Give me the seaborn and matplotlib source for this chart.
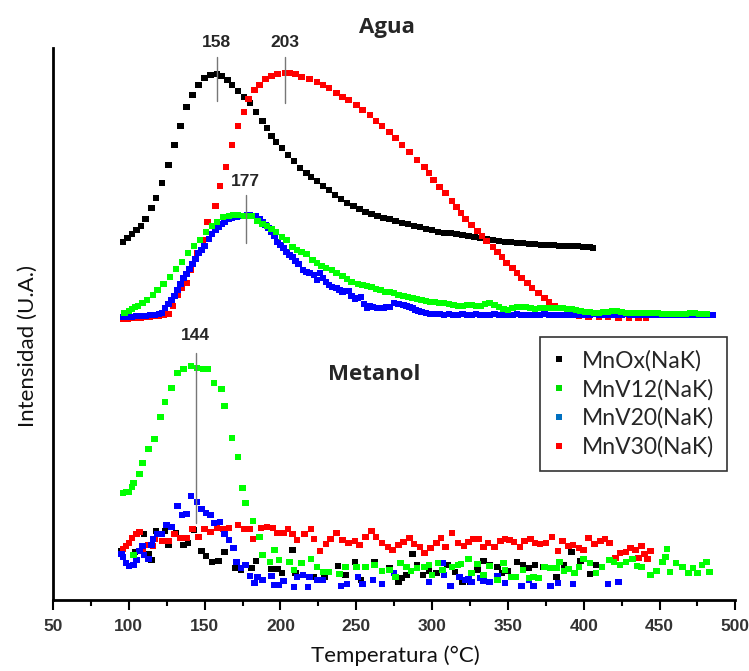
import matplotlib
matplotlib.use('Agg')
import matplotlib.pyplot as plt
import pandas as pd
import seaborn as sns
from matplotlib.lines import Line2D
from matplotlib.ticker import MultipleLocator

# Datos: temperatura (°C) e intensidad (U.A.)
# --- Agua ---
agua_mnox_t = [96, 99, 102, 105, 108, 111, 115, 118, 122, 126, 130, 134, 138, 142, 146, 150, 154, 158,
               161, 165, 168, 172, 176, 180, 184, 188, 191, 194, 197, 201, 205, 209, 213, 217, 220, 224,
               228, 232, 236, 240, 244, 248, 252, 256, 260, 264, 268, 272, 276, 280, 284, 288, 292, 296,
               300, 304, 308, 312, 316, 320, 324, 328, 332, 336, 340, 344, 348, 352, 356, 360, 364, 368,
               372, 376, 380, 384, 388, 392, 396, 400, 404, 406]
agua_mnox_i = [358, 362, 366, 370, 374, 381, 392, 402, 417, 435, 455, 474, 493, 505, 515, 522, 525, 526,
               524, 520, 515, 509, 503, 497, 488, 479, 472, 464, 458, 452, 445, 439, 432, 427, 423, 419,
               414, 410, 405, 401, 397, 394, 391, 388, 386, 384, 382, 381, 379, 377, 376, 374, 373, 371,
               370, 368, 367, 367, 366, 365, 364, 363, 362, 361, 360, 359, 358, 358, 357, 357, 356, 356,
               355, 355, 355, 354, 354, 354, 354, 353, 353, 352]

agua_mnv30_t = [96, 99, 102, 105, 108, 111, 114, 117, 120, 123, 126, 129, 132, 135, 138, 141, 145, 149,
                152, 157, 160, 164, 168, 172, 176, 179, 183, 186, 190, 194, 198, 203, 206, 210, 214, 219,
                224, 228, 232, 237, 241, 245, 250, 254, 259, 263, 267, 272, 276, 280, 285, 290, 295, 298,
                301, 305, 309, 313, 316, 319, 322, 326, 330, 333, 336, 340, 343, 346, 349, 353, 356, 359,
                363, 366, 370, 374, 377, 381, 385, 390, 397, 403, 410, 416, 423, 430, 436, 441]
agua_mnv30_i = [281, 281, 282, 282, 282, 283, 283, 284, 284, 285, 286, 294, 305, 312, 317, 330, 347, 360,
                378, 394, 414, 433, 455, 474, 488, 501, 510, 515, 521, 524, 526, 527, 527, 526, 523, 521,
                518, 515, 512, 507, 503, 500, 495, 490, 485, 479, 474, 468, 462, 455, 448, 440, 433, 427,
                420, 413, 407, 399, 393, 387, 381, 375, 369, 364, 359, 353, 348, 343, 337, 332, 327, 322,
                317, 312, 307, 302, 298, 294, 292, 288, 284, 283, 283, 283, 282, 282, 282, 282]

agua_mnv12_t = [97, 100, 102, 104, 106, 109, 112, 116, 119, 123, 127, 131, 135, 139, 143, 147, 151, 155,
                158, 162, 166, 169, 172, 176, 179, 181, 185, 188, 191, 194, 197, 201, 204, 208, 211, 214,
                217, 221, 224, 227, 230, 234, 237, 241, 244, 247, 251, 254, 257, 260, 263, 266, 269, 272,
                275, 278, 281, 284, 287, 290, 293, 296, 299, 302, 305, 308, 311, 314, 317, 320, 323, 326,
                329, 332, 335, 338, 341, 344, 347, 350, 353, 356, 359, 362, 365, 368, 371, 374, 377, 380,
                383, 386, 389, 392, 395, 398, 401, 404, 407, 410, 413, 416, 419, 422, 425, 428, 431, 434,
                437, 440, 443, 446, 449, 452, 455, 458, 461, 464, 467, 470, 473, 476, 479, 481]
agua_mnv12_i = [287, 289, 291, 293, 294, 297, 300, 305, 310, 316, 323, 331, 338, 347, 354, 360, 368, 374,
                378, 383, 384, 385, 385, 384, 384, 384, 379, 376, 374, 371, 368, 363, 360, 353, 350, 348,
                346, 340, 337, 334, 332, 330, 327, 324, 321, 318, 316, 315, 314, 313, 311, 310, 308, 308,
                307, 305, 304, 303, 302, 301, 300, 299, 298, 298, 297, 297, 296, 295, 294, 294, 295, 295,
                294, 294, 296, 297, 295, 293, 291, 290, 292, 293, 293, 293, 292, 291, 292, 292, 292, 292,
                292, 292, 291, 291, 290, 289, 288, 288, 287, 287, 288, 288, 289, 289, 288, 287, 287, 287,
                287, 287, 287, 287, 287, 286, 286, 286, 286, 286, 286, 287, 287, 286, 286, 286]

agua_mnv20_t = [96, 99, 102, 105, 108, 111, 114, 117, 120, 122, 124, 126, 128, 130, 132, 134, 136, 138,
                140, 142, 144, 146, 148, 150, 153, 155, 157, 159, 161, 163, 166, 168, 171, 173, 175, 178,
                180, 182, 184, 186, 188, 190, 192, 194, 196, 198, 200, 202, 204, 206, 208, 210, 212, 215,
                217, 219, 222, 224, 226, 228, 230, 232, 234, 237, 239, 241, 243, 245, 247, 249, 251, 253,
                255, 257, 259, 261, 264, 266, 268, 270, 272, 275, 278, 281, 283, 285, 287, 289, 291, 293,
                296, 299, 302, 305, 308, 311, 314, 317, 320, 323, 326, 329, 332, 335, 338, 341, 344, 347,
                350, 353, 356, 359, 362, 365, 368, 371, 374, 377, 380, 383, 386, 389, 392, 395, 398, 401,
                404, 407, 410, 413, 416, 419, 422, 425, 428, 431, 434, 437, 440, 443, 446, 449, 452, 455,
                458, 461, 464, 467, 470, 473, 476, 479, 482, 485]
agua_mnv20_i = [283, 283, 283, 284, 284, 284, 285, 285, 286, 287, 292, 296, 300, 304, 310, 316, 322, 326,
                331, 336, 341, 347, 350, 354, 361, 366, 370, 373, 376, 378, 381, 382, 383, 384, 384, 385,
                385, 384, 384, 381, 378, 375, 372, 368, 364, 358, 355, 352, 348, 345, 343, 339, 336, 330,
                328, 327, 325, 320, 327, 322, 318, 315, 313, 312, 310, 308, 309, 309, 304, 301, 302, 303,
                296, 292, 294, 293, 292, 292, 292, 293, 293, 297, 296, 295, 294, 293, 292, 290, 289, 288,
                287, 286, 286, 286, 285, 286, 285, 285, 286, 285, 285, 286, 285, 285, 285, 286, 285, 285,
                285, 285, 286, 285, 285, 285, 285, 285, 286, 285, 285, 285, 285, 285, 285, 285, 285, 285,
                285, 286, 285, 285, 285, 285, 285, 285, 286, 285, 285, 285, 285, 285, 285, 285, 285, 285,
                285, 285, 285, 285, 285, 285, 285, 285, 285, 285]

# --- Metanol ---
met_mnox_t = [95, 104, 110, 113, 115, 118, 124, 126, 131, 136, 139, 143, 148, 151, 155, 159, 163, 170,
              174, 181, 184, 188, 194, 198, 201, 208, 210, 222, 229, 238, 243, 249, 253, 262, 267, 272,
              278, 280, 283, 287, 290, 294, 298, 303, 310, 315, 320, 325, 330, 334, 338, 343, 346, 350,
              356, 360, 364, 368, 373, 382, 387, 392, 398, 404, 408]
met_mnox_i = [49, 48, 66, 46, 40, 69, 69, 55, 67, 55, 57, 70, 49, 44, 38, 39, 48, 32,
              30, 32, 39, 20, 31, 31, 27, 50, 27, 23, 23, 34, 25, 38, 20, 38, 29, 32,
              18, 22, 25, 46, 35, 25, 29, 27, 35, 28, 18, 18, 30, 39, 35, 33, 27, 29,
              38, 35, 32, 35, 33, 23, 35, 48, 39, 26, 35]

met_mnv30_t = [96, 98, 100, 102, 105, 107, 109, 113, 116, 117, 122, 126, 130, 134, 138, 142, 146, 150,
               154, 158, 162, 166, 172, 176, 180, 182, 187, 191, 195, 198, 202, 205, 208, 211, 216, 220,
               222, 226, 230, 233, 237, 241, 245, 249, 252, 256, 260, 263, 267, 271, 274, 278, 281, 285,
               288, 292, 295, 299, 303, 306, 309, 313, 317, 321, 324, 327, 331, 334, 337, 341, 345, 348,
               351, 354, 358, 361, 365, 368, 371, 375, 379, 383, 386, 390, 393, 397, 400, 403, 407, 411,
               414, 417, 421, 424, 428, 431, 434, 436, 438, 440, 442, 444]
met_mnv30_i = [51, 54, 57, 62, 66, 68, 50, 55, 54, 61, 59, 59, 66, 62, 62, 71, 63, 71,
               68, 72, 71, 72, 75, 71, 71, 61, 72, 73, 72, 67, 67, 71, 66, 60, 66, 71,
               61, 49, 56, 61, 67, 60, 57, 59, 55, 63, 69, 63, 57, 53, 50, 55, 58, 62,
               56, 53, 47, 52, 57, 62, 53, 67, 57, 54, 58, 61, 61, 53, 57, 53, 59, 61,
               60, 58, 53, 59, 61, 57, 56, 57, 63, 49, 59, 54, 55, 52, 50, 62, 56, 59,
               61, 57, 42, 47, 48, 52, 50, 42, 54, 46, 41, 49]

met_mnv20_t = [95, 96, 98, 100, 103, 105, 107, 109, 110, 113, 115, 116, 119, 122, 125, 128, 132, 135,
               138, 141, 145, 148, 151, 154, 156, 160, 163, 166, 169, 171, 174, 177, 180, 183, 185, 188,
               194, 196, 199, 202, 209, 211, 215, 218, 219, 224, 228, 240, 244, 251, 254, 261, 267, 275,
               298, 307, 308, 312, 318, 322, 324, 326, 332, 334, 338, 343, 348, 359, 364, 367, 378, 383,
               393, 416, 423]
met_mnv20_i = [46, 43, 37, 34, 35, 40, 49, 54, 45, 41, 55, 61, 66, 66, 75, 73, 94, 85,
               86, 104, 98, 91, 87, 85, 77, 78, 66, 60, 52, 38, 32, 35, 24, 17, 23, 20,
               24, 15, 15, 19, 13, 23, 25, 13, 23, 20, 20, 14, 16, 23, 16, 20, 16, 27,
               18, 37, 25, 14, 23, 20, 21, 18, 22, 19, 18, 24, 17, 14, 20, 14, 14, 17,
               16, 16, 18]

met_mnv12_t = [96, 98, 100, 102, 103, 103, 107, 109, 113, 117, 121, 124, 128, 132, 136, 141, 145, 149,
               152, 156, 161, 163, 168, 172, 175, 177, 182, 186, 188, 193, 196, 199, 206, 209, 214, 220,
               224, 228, 232, 239, 243, 250, 256, 262, 267, 272, 276, 279, 283, 286, 290, 295, 298, 300,
               304, 307, 313, 317, 319, 324, 326, 330, 334, 338, 343, 347, 348, 352, 355, 360, 364, 367,
               370, 374, 378, 382, 384, 387, 390, 394, 397, 400, 404, 408, 412, 417, 420, 424, 428, 432,
               435, 438, 444, 448, 452, 454, 455, 457, 461, 465, 469, 472, 475, 478, 481, 483]
met_mnv12_i = [107, 108, 108, 113, 117, 45, 126, 137, 151, 161, 183, 198, 212, 227, 231, 234, 232, 231,
               231, 217, 211, 194, 162, 143, 112, 97, 79, 63, 45, 38, 50, 40, 38, 30, 37, 41,
               33, 28, 28, 26, 33, 33, 33, 35, 29, 30, 23, 37, 33, 29, 32, 33, 35, 25,
               37, 30, 33, 35, 36, 41, 27, 36, 25, 34, 20, 37, 30, 23, 23, 30, 22, 23,
               22, 33, 32, 32, 38, 29, 31, 27, 33, 41, 37, 27, 33, 40, 38, 35, 38, 41,
               34, 33, 25, 29, 38, 43, 51, 28, 37, 33, 27, 32, 27, 35, 38, 28]

muestras = ['MnOx(NaK)', 'MnV12(NaK)', 'MnV20(NaK)', 'MnV30(NaK)']
colores = {'MnOx(NaK)': '#000000', 'MnV12(NaK)': '#00ff00',
           'MnV20(NaK)': '#0000ff', 'MnV30(NaK)': '#ff0000'}
colores_leyenda = ['#000000', '#00e000', '#0070c0', '#ff0000']

picos_t = [158, 203, 177, 144]
picos_txt = ['158', '203', '177', '144']

# Tabla larga (orden de dibujo: negro, rojo, azul, verde)
series = [
    ('MnOx(NaK)', agua_mnox_t, agua_mnox_i), ('MnOx(NaK)', met_mnox_t, met_mnox_i),
    ('MnV30(NaK)', agua_mnv30_t, agua_mnv30_i), ('MnV30(NaK)', met_mnv30_t, met_mnv30_i),
    ('MnV20(NaK)', agua_mnv20_t, agua_mnv20_i), ('MnV20(NaK)', met_mnv20_t, met_mnv20_i),
    ('MnV12(NaK)', agua_mnv12_t, agua_mnv12_i), ('MnV12(NaK)', met_mnv12_t, met_mnv12_i),
]
df = pd.concat([pd.DataFrame({'temp': t, 'intensidad': i, 'muestra': m}) for m, t, i in series],
               ignore_index=True)

sns.set_style('white')
plt.rcParams['font.family'] = ['Lato', 'DejaVu Sans']

fig = plt.figure(figsize=(7.49, 6.71), dpi=100)
ax = fig.add_axes([0.0708, 0.1058, 0.911, 0.8227])

sns.scatterplot(data=df, x='temp', y='intensidad', hue='muestra', palette=colores,
                marker='s', s=22, linewidth=0, legend=False, ax=ax)

ax.set_xlim(50, 500)
ax.set_ylim(0, 552)
ax.set_yticks([])
ax.xaxis.set_major_locator(MultipleLocator(50))
ax.xaxis.set_minor_locator(MultipleLocator(25))
ax.tick_params(axis='x', which='major', direction='out', length=7, width=1.5, color='black',
               bottom=True, pad=7)
ax.tick_params(axis='x', which='minor', direction='out', length=4, width=1.5, color='black',
               bottom=True)
for lab in ax.get_xticklabels():
    lab.set_fontfamily(['Liberation Sans', 'DejaVu Sans'])
    lab.set_fontweight('bold')
    lab.set_fontsize(12.5)
    lab.set_color('#333333')

for side in ['top', 'right']:
    ax.spines[side].set_visible(False)
for side in ['left', 'bottom']:
    ax.spines[side].set_linewidth(2)
    ax.spines[side].set_color('black')

ax.set_xlabel('Temperatura (°C)', fontsize=16, color='#111111')
ax.set_ylabel('Intensidad (U.A.)', fontsize=16, color='#111111')
ax.xaxis.set_label_coords(0.501, -0.082)
ax.yaxis.set_label_coords(-0.022, 0.46)

# Títulos de cada experimento
titulo = dict(ha='center', va='center', fontsize=16, fontweight='bold',
              family=['Open Sans', 'DejaVu Sans'])
ax.text(270, 572, 'Agua', clip_on=False, **titulo)
ax.text(262, 225, 'Metanol', **titulo)

# Marcas de los máximos
lineas = [(543, 499), (543, 497), (405, 357), (247, 77)]
textos_y = [557, 557, 418, 264]
for t, txt, (y0, y1), ty in zip(picos_t, picos_txt, lineas, textos_y):
    ax.plot([t, t], [y0, y1], color='#777777', linewidth=1, clip_on=False)
    ax.text(t, ty, txt, ha='center', va='center', fontsize=12.5, fontweight='bold',
            family=['Liberation Sans', 'DejaVu Sans'], clip_on=False)

# Leyenda
handles = [Line2D([], [], marker='s', linestyle='none', markersize=5, color=c,
                  markeredgewidth=0) for c in colores_leyenda]
leg = ax.legend(handles, muestras, loc='upper left', bbox_to_anchor=(0.713, 0.476),
                borderaxespad=0, fontsize=16.5, frameon=True, fancybox=False, framealpha=1,
                edgecolor='#333333', handlelength=0.6, handletextpad=0.7, labelspacing=0.32,
                borderpad=0.55)
leg.get_frame().set_linewidth(1.2)

fig.savefig('out.png', dpi=100)
